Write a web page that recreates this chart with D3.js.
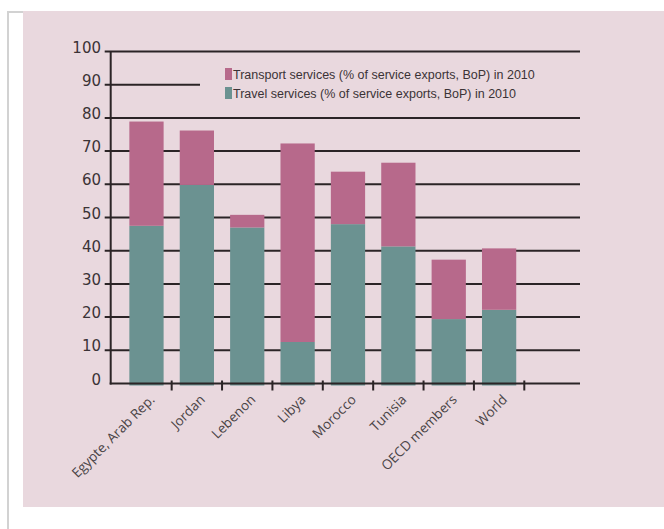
<!DOCTYPE html>
<html>
<head>
<meta charset="utf-8">
<script src="https://cdnjs.cloudflare.com/ajax/libs/d3/7.8.5/d3.min.js"></script>
<style>
  body { margin: 0; background: #fff; }
  svg { display: block; }
</style>
</head>
<body>
<svg id="chart" width="664" height="529"></svg>
<script>
// datos
var countries = ["Egypte, Arab Rep.", "Jordan", "Lebenon", "Libya", "Morocco", "Tunisia", "OECD members", "World"];
var travel    = [47.5, 59.8, 47, 12.5, 48, 41.3, 19.4, 22.2];
var transport = [31.4, 16.4, 3.8, 59.8, 15.8, 25.2, 17.9, 18.5];
var yTicks = [0, 10, 20, 30, 40, 50, 60, 70, 80, 90, 100];
var seriesNames = ["Transport services (% of service exports, BoP) in 2010",
                   "Travel services (% of service exports, BoP) in 2010"];

var svg = d3.select("#chart");

// fondo rosa y borde gris
svg.append("rect").attr("x", 23).attr("y", 11).attr("width", 641).attr("height", 496).attr("fill", "#e9d8de");
svg.append("path").attr("d", "M8,529V12H23").attr("fill", "none").attr("stroke", "#d2d2d2").attr("stroke-width", 2);

var axisLeft = 110.7, axisRight = 580;

var y = d3.scaleLinear().domain([0, 100]).range([383.5, 51.5]);
// ranuras de cada categoria (los ticks van entre ranuras)
var slot = d3.scaleBand().domain(countries).range([121.3, 524.3]);
var barPad = 0.16;

var g = svg.append("g");

// lineas de la grilla
g.selectAll(".grid")
  .data(yTicks.filter(function(d) { return d > 0; }))
  .enter().append("line")
    .attr("x1", axisLeft - 6)
    .attr("x2", function(d) { return d === 90 ? 200 : axisRight; })
    .attr("y1", function(d) { return y(d); })
    .attr("y2", function(d) { return y(d); })
    .attr("stroke", "#2b2426")
    .attr("stroke-width", 2);

// barras apiladas
var stack = countries.map(function(c, i) {
  return { name: c, travel: travel[i], transport: transport[i] };
});

g.selectAll(".travel")
  .data(stack)
  .enter().append("rect")
    .attr("x", function(d) { return slot(d.name) + slot.bandwidth() * barPad; })
    .attr("width", slot.bandwidth() * (1 - 2 * barPad))
    .attr("y", function(d) { return y(d.travel); })
    .attr("height", function(d) { return y(0) - y(d.travel) + 2; })
    .attr("fill", "#6b9291");

g.selectAll(".transport")
  .data(stack)
  .enter().append("rect")
    .attr("x", function(d) { return slot(d.name) + slot.bandwidth() * barPad; })
    .attr("width", slot.bandwidth() * (1 - 2 * barPad))
    .attr("y", function(d) { return y(d.travel + d.transport); })
    .attr("height", function(d) { return y(d.travel) - y(d.travel + d.transport); })
    .attr("fill", "#b7698b");

// ejes
g.append("line")
  .attr("x1", axisLeft).attr("x2", axisLeft)
  .attr("y1", y(100)).attr("y2", y(0) + 1)
  .attr("stroke", "#2b2426").attr("stroke-width", 2);
g.append("line")
  .attr("x1", axisLeft - 1).attr("x2", axisRight)
  .attr("y1", y(0)).attr("y2", y(0))
  .attr("stroke", "#2b2426").attr("stroke-width", 2);

g.selectAll(".xtick")
  .data(countries)
  .enter().append("line")
    .attr("x1", function(d) { return slot(d) + slot.bandwidth(); })
    .attr("x2", function(d) { return slot(d) + slot.bandwidth(); })
    .attr("y1", y(0) - 3)
    .attr("y2", y(0) + 7)
    .attr("stroke", "#2b2426")
    .attr("stroke-width", 2);

// etiquetas del eje Y
g.selectAll(".ylab")
  .data(yTicks)
  .enter().append("text")
    .attr("x", 101)
    .attr("y", function(d) { return y(d) + 1; })
    .attr("text-anchor", "end")
    .attr("font-family", "DejaVu Sans")
    .attr("font-size", 15)
    .attr("fill", "#3b3336")
    .text(function(d) { return d; });

// etiquetas del eje X, giradas
g.selectAll(".xlab")
  .data(countries)
  .enter().append("text")
    .attr("transform", function(d) {
      return "translate(" + (slot(d) + slot.bandwidth() / 2 + 9) + "," + (y(0) + 17) + ") rotate(-45)";
    })
    .attr("text-anchor", "end")
    .attr("font-family", "Open Sans")
    .attr("font-size", 13.5)
    .attr("fill", "#4a4446")
    .text(function(d) { return d; });

// leyenda
var legend = g.selectAll(".legend")
  .data(seriesNames)
  .enter().append("g")
    .attr("transform", function(d, i) { return "translate(225," + (68 + i * 19) + ")"; });
legend.append("rect")
  .attr("width", 7)
  .attr("height", 12)
  .attr("fill", function(d, i) { return i === 0 ? "#b7698b" : "#6b9291"; });
legend.append("text")
  .attr("x", 8)
  .attr("y", 11)
  .attr("font-family", "Liberation Sans")
  .attr("font-size", 12.5)
  .attr("fill", "#3b3336")
  .text(function(d) { return d; });
</script>
</body>
</html>
